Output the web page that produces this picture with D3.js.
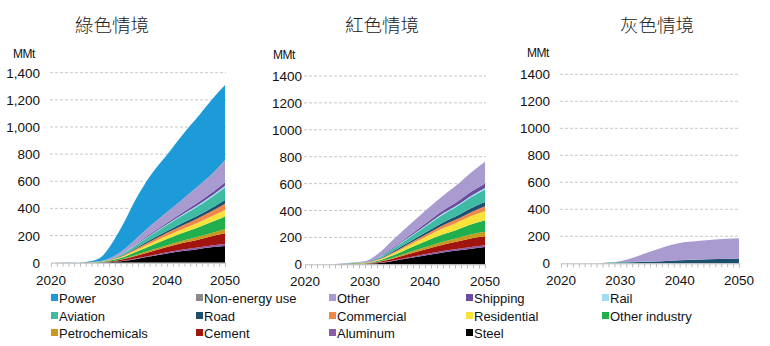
<!DOCTYPE html>
<html><head><meta charset="utf-8">
<script src="https://cdn.jsdelivr.net/npm/d3@7"></script>
<style>
html,body{margin:0;padding:0;background:#fff;}
svg{display:block;font-family:"Liberation Sans",Arial,sans-serif;}
</style></head>
<body><svg id="c" width="770" height="346"></svg>
<script>
// ---- data ----
const years = [2020, 2025, 2027, 2029, 2030, 2032, 2035, 2037, 2040, 2043, 2045, 2048, 2050];
const seriesKeys = ["Steel","Aluminum","Cement","Petrochemicals","Other industry","Residential","Commercial","Road","Aviation","Rail","Shipping","Other","Non-energy use","Power"];
const legendOrder = ["Power","Non-energy use","Other","Shipping","Rail","Aviation","Road","Commercial","Residential","Other industry","Petrochemicals","Cement","Aluminum","Steel"];
const colors = {"Power":"#1c9bd8","Non-energy use":"#8a8a8a","Other":"#a99ad0","Shipping":"#6b4c9f","Rail":"#a2dcf0","Aviation":"#3fbaa3","Road":"#1d4f6e","Commercial":"#f0884a","Residential":"#f8e23c","Other industry":"#21ae4c","Petrochemicals":"#c9981c","Cement":"#a0160f","Aluminum":"#8b5cab","Steel":"#000000"};
const titles = ["綠色情境","紅色情境","灰色情境"];
const yTicks = [0,200,400,600,800,1000,1200,1400];
const xTicks = [2020,2030,2040,2050];

// Green scenario
const greenSteel      = [0,0,0,1,3,10,30,45,68,88,98,115,123];
const greenAluminum   = [0,0,0,0,1,2,4,6,9,11,12,14,15];
const greenCement     = [0,0,1,2,4,9,20,28,38,49,56,69,79];
const greenPetro      = [0,0,0,1,1,3,8,10,14,18,21,25,29];
const greenOtherInd   = [0,0,1,3,5,11,24,33,45,58,67,82,94];
const greenResidential= [0,0,1,2,3,6,13,17,24,30,35,43,49];
const greenCommercial = [0,0,0,1,2,5,12,16,22,28,32,39,45];
const greenRoad       = [0,0,0,1,1,3,7,10,13,17,20,24,28];
const greenAviation   = [0,0,0,1,2,8,22,31,44,58,66,81,93];
const greenRail       = [0,0,0,0,0,1,3,4,6,7,9,10,12];
const greenShipping   = [0,0,0,0,1,2,6,9,12,15,18,22,25];
const greenOther      = [0,1,2,5,8,19,40,56,77,99,114,139,160];
const greenNonEnergy  = [0,0,0,0,0,0,1,1,1,1,2,2,2];
const greenPower      = [0,1,7,38,79,171,307,368,422,481,508,550,556];

// Red scenario
const redSteel      = [0,0,0,1,2,8,27,43,66,88,100,118,129];
const redAluminum   = [0,0,0,0,0,1,3,5,8,10,11,12,12];
const redCement     = [0,1,2,3,3,6,16,24,36,48,54,66,67];
const redPetro      = [0,0,1,1,1,3,8,12,17,22,25,30,34];
const redOtherInd   = [0,0,1,2,2,6,18,28,42,55,62,76,86];
const redResidential= [0,0,1,2,2,6,16,23,33,45,52,62,69];
const redCommercial = [0,0,0,1,1,3,8,11,16,22,25,31,35];
const redRoad       = [0,0,0,1,1,3,8,11,16,21,24,29,32];
const redAviation   = [0,0,1,2,2,7,20,30,45,60,68,83,92];
const redRail       = [0,0,0,0,0,1,3,4,6,8,9,11,12];
const redShipping   = [0,0,0,0,1,3,7,10,16,21,24,30,33];
const redOther      = [0,2,4,5,7,25,61,77,96,110,124,145,161];
const redNonEnergy  = [0,0,0,0,0,0,0,0,0,0,0,0,0];
const redPower      = [0,0,0,0,0,0,0,0,0,0,0,0,0];

// Grey scenario
const greyRoad      = [0,0,2,5,6,8,12,15,22,27,30,33,35];
const greyAviation  = [0,0,1,3,3,2,1,1,1,1,1,1,1];
const greyOther     = [0,0,0,0,6,30,72,99,127,137,142,148,149];

const zeros = years.map(() => 0);
const scenarios = [
  {"Steel":greenSteel,"Aluminum":greenAluminum,"Cement":greenCement,"Petrochemicals":greenPetro,"Other industry":greenOtherInd,"Residential":greenResidential,"Commercial":greenCommercial,"Road":greenRoad,"Aviation":greenAviation,"Rail":greenRail,"Shipping":greenShipping,"Other":greenOther,"Non-energy use":greenNonEnergy,"Power":greenPower},
  {"Steel":redSteel,"Aluminum":redAluminum,"Cement":redCement,"Petrochemicals":redPetro,"Other industry":redOtherInd,"Residential":redResidential,"Commercial":redCommercial,"Road":redRoad,"Aviation":redAviation,"Rail":redRail,"Shipping":redShipping,"Other":redOther,"Non-energy use":redNonEnergy,"Power":redPower},
  {"Steel":zeros,"Aluminum":zeros,"Cement":zeros,"Petrochemicals":zeros,"Other industry":zeros,"Residential":zeros,"Commercial":zeros,"Road":greyRoad,"Aviation":greyAviation,"Rail":zeros,"Shipping":zeros,"Other":greyOther,"Non-energy use":zeros,"Power":zeros}
];

// ---- layout ----
const panels = [
  {x0:51, x1:225, y0:262.7, y1:72.7, labelX:40, mmtX:13, mmtY:58, comma:true, titleX:112},
  {x0:305, x1:485, y0:264.3, y1:76, labelX:302, mmtX:273, mmtY:59, comma:false, titleX:382},
  {x0:561, x1:739, y0:263.3, y1:74.3, labelX:550, mmtX:527, mmtY:57, comma:false, titleX:657}
];

const svg = d3.select("#c");
const fmtComma = d3.format(",");

panels.forEach((p, i) => {
  const x = d3.scaleLinear().domain([2020, 2050]).range([p.x0, p.x1]);
  const y = d3.scaleLinear().domain([0, 1400]).range([p.y0, p.y1]);
  const g = svg.append("g");

  // title
  svg.append("text").attr("x", p.titleX).attr("y", 32).attr("text-anchor","middle")
    .style("font-family",'"Noto Sans CJK TC","Noto Sans CJK SC",sans-serif')
    .style("font-size","18.5px").style("font-weight","300").attr("fill","#222").text(titles[i]);

  // gridlines
  g.selectAll(".grid").data(yTicks.filter(d => d > 0)).join("line")
    .attr("x1", p.x0 - 1).attr("x2", p.x1 + 1)
    .attr("y1", d => y(d)).attr("y2", d => y(d))
    .attr("stroke", "#c8c8c8").attr("stroke-width", 1).attr("stroke-dasharray", "3,2");

  // stacked area
  const rows = years.map((yr, j) => {
    const o = {year: yr};
    seriesKeys.forEach(k => o[k] = scenarios[i][k][j]);
    return o;
  });
  const stack = d3.stack().keys(seriesKeys)(rows);
  const area = d3.area().x(d => x(d.data.year)).y0(d => y(d[0])).y1(d => y(d[1])).curve(d3.curveMonotoneX);
  g.selectAll(".layer").data(stack).join("path")
    .attr("d", area).attr("fill", d => colors[d.key]);

  // x axis baseline + minor ticks
  const xAxis = d3.axisBottom(x).tickValues(d3.range(2020, 2051)).tickSize(4).tickFormat("");
  const ax = g.append("g").attr("transform", `translate(0,${p.y0})`).call(xAxis);
  ax.select(".domain").attr("stroke", "#bcbcbc");
  ax.selectAll(".tick line").attr("stroke", "#bcbcbc");

  // x labels
  g.selectAll(".xl").data(xTicks).join("text")
    .attr("x", d => x(d)).attr("y", p.y0 + 22).attr("text-anchor", "middle")
    .style("font-size", "13.5px").attr("fill", "#111").text(d => d);

  // y labels
  g.selectAll(".yl").data(yTicks).join("text")
    .attr("x", p.labelX).attr("y", d => y(d) + 5).attr("text-anchor", "end")
    .style("font-size", "13.5px").attr("fill", "#111")
    .text(d => p.comma ? fmtComma(d) : d);

  // unit
  g.append("text").attr("x", p.mmtX).attr("y", p.mmtY).style("font-size", "12px")
    .style("letter-spacing","-0.5px").attr("fill", "#111").text("MMt");
});

// legend
const legendCols = [55, 200, 333, 470, 606];
const legendRows = [298, 316, 333];
const legendPos = [
  [0,0],[1,0],[2,0],[3,0],[4,0],
  [0,1],[1,1],[2,1],[3,1],[4,1],
  [0,2],[1,2],[2,2],[3,2]
];
const lg = svg.append("g");
legendOrder.forEach((k, i) => {
  const [c, r] = legendPos[i];
  const gx = legendCols[c], gy = legendRows[r];
  lg.append("rect").attr("x", gx - 4).attr("y", gy - 4).attr("width", 7).attr("height", 7).attr("fill", colors[k]);
  lg.append("text").attr("x", gx + 4).attr("y", gy + 5).style("font-size", "13px").attr("fill", "#111").text(k);
});
</script></body></html>
